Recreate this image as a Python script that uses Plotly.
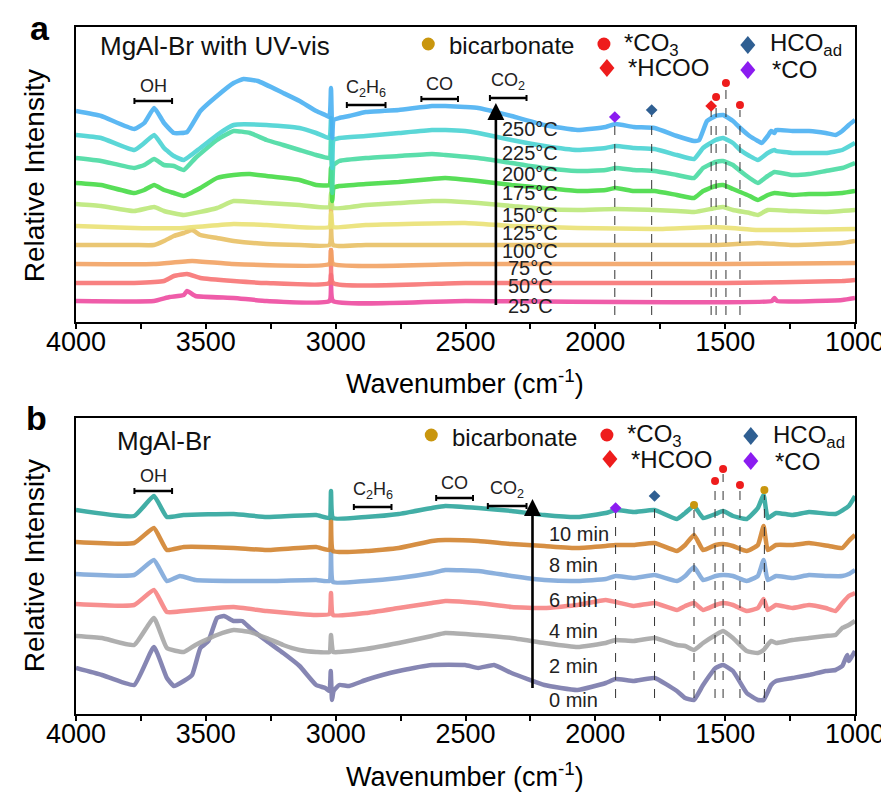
import plotly.graph_objects as go

# ---------------- DATA (wavenumber cm-1, stacked relative intensity) ----------------
# Panel a : MgAl-Br with UV-vis, temperature series
temps_a = ["25°C", "50°C", "75°C", "100°C", "125°C", "150°C", "175°C", "200°C", "225°C", "250°C"]
colors_a = ["#EE4BA0", "#F87474", "#F2A363", "#E8C064", "#EAE275", "#BCE879",
            "#46DB46", "#4ADBA2", "#4AD3D3", "#4BB1F2"]

a_25 = [(4000, 21), (3700, 21), (3640, 25), (3585, 27), (3572, 31), (3540, 26), (3393, 24),
        (3266, 21), (3024, 21), (3018, 47), (3010, 21), (2500, 21), (1320, 21), (1310, 24),
        (1300, 21), (1049, 22), (1000, 24)]
a_50 = [(4000, 39), (3776, 39), (3661, 41), (3623, 46), (3572, 48), (3521, 44), (3393, 41),
        (3266, 39), (3024, 39), (3018, 72), (3010, 39), (2500, 39), (1500, 39), (1049, 41), (1000, 42)]
a_75 = [(4000, 58), (3700, 58), (3553, 61), (3400, 58), (3024, 58), (3018, 72), (3010, 58),
        (2500, 58), (1500, 58), (1000, 59)]
a_100 = [(4000, 77), (3776, 77), (3700, 77), (3661, 81), (3623, 86), (3585, 89), (3553, 92),
         (3521, 87), (3457, 84), (3393, 81), (3266, 78), (3139, 77), (3024, 77), (3018, 119),
         (3010, 77), (2884, 77), (2502, 77), (2069, 77), (1537, 77), (1374, 79), (1304, 78),
         (1241, 77), (1049, 79), (1000, 81)]
a_125 = [(4000, 96), (3776, 94), (3585, 94), (3393, 98), (3266, 97), (3024, 95), (3018, 109),
         (3010, 95), (2884, 97), (2502, 99), (2323, 96), (2069, 94), (1772, 93), (1537, 95),
         (1374, 92), (1241, 92), (1000, 93)]
a_150 = [(4000, 118), (3903, 116), (3776, 111), (3699, 115), (3661, 111), (3585, 107), (3457, 114),
         (3393, 121), (3266, 119), (3139, 117), (3024, 115), (3018, 129), (3010, 114), (2884, 117),
         (2757, 119), (2629, 121), (2578, 121), (2451, 119), (2323, 116), (2196, 113), (2069, 112),
         (1922, 113), (1772, 112), (1686, 111), (1620, 110), (1537, 114), (1508, 115), (1470, 112),
         (1406, 109), (1374, 107), (1336, 112), (1241, 111), (1113, 110), (1000, 112)]
a_175 = [(4000, 139), (3903, 137), (3776, 129), (3737, 132), (3699, 137), (3661, 132), (3623, 129),
         (3585, 126), (3521, 134), (3457, 144), (3393, 147), (3330, 148), (3266, 146), (3139, 142),
         (3075, 137), (3024, 137), (3018, 154), (3013, 121), (3008, 134), (2986, 136), (2884, 138),
         (2757, 140), (2629, 143), (2578, 144), (2451, 141), (2323, 137), (2196, 134), (2069, 131),
         (1960, 132), (1922, 134), (1852, 131), (1772, 131), (1686, 127), (1620, 124), (1585, 131),
         (1537, 136), (1508, 137), (1470, 133), (1442, 130), (1406, 126), (1374, 122), (1336, 127),
         (1310, 129), (1241, 127), (1177, 128), (1113, 128), (1049, 129), (1000, 131)]
a_200 = [(4000, 164), (3903, 161), (3776, 154), (3737, 157), (3699, 163), (3661, 157), (3623, 156),
         (3585, 152), (3540, 164), (3457, 182), (3393, 191), (3330, 189), (3266, 182), (3202, 177),
         (3139, 172), (3075, 167), (3024, 164), (3018, 187), (3013, 129), (3008, 157), (2986, 161),
         (2884, 164), (2757, 166), (2629, 168), (2578, 167), (2451, 164), (2323, 159), (2196, 154),
         (2069, 151), (1960, 152), (1922, 154), (1852, 152), (1772, 151), (1686, 147), (1620, 144),
         (1585, 154), (1537, 160), (1508, 161), (1470, 157), (1442, 151), (1406, 144), (1374, 139),
         (1336, 146), (1310, 150), (1241, 147), (1177, 148), (1113, 151), (1049, 154), (1000, 159)]
a_225 = [(4000, 187), (3903, 184), (3776, 172), (3737, 179), (3699, 187), (3661, 174), (3623, 166),
         (3585, 162), (3521, 174), (3457, 187), (3393, 197), (3266, 197), (3139, 194), (3075, 189),
         (3024, 184), (3018, 204), (3013, 154), (3008, 182), (2986, 184), (2884, 186), (2757, 189),
         (2629, 192), (2578, 192), (2502, 191), (2451, 189), (2323, 182), (2196, 176), (2069, 172),
         (1960, 174), (1922, 176), (1852, 174), (1772, 173), (1686, 167), (1620, 163), (1585, 174),
         (1537, 182), (1508, 184), (1470, 179), (1442, 172), (1406, 166), (1374, 162), (1336, 169),
         (1310, 172), (1304, 171), (1241, 169), (1177, 169), (1113, 169), (1049, 172), (1000, 179)]
a_250 = [(4000, 211), (3903, 206), (3776, 193), (3737, 199), (3699, 214), (3661, 199), (3623, 189),
         (3572, 190), (3521, 211), (3457, 226), (3393, 239), (3355, 243), (3300, 241), (3202, 229),
         (3139, 221), (3075, 211), (3040, 207), (3024, 205), (3018, 234), (3013, 184), (3008, 202),
         (2986, 204), (2948, 206), (2884, 210), (2820, 211), (2757, 212), (2629, 216), (2578, 216),
         (2502, 215), (2451, 214), (2323, 206), (2196, 197), (2069, 192), (1960, 195), (1922, 198),
         (1852, 195), (1772, 194), (1686, 186), (1620, 181), (1600, 182), (1570, 201), (1537, 206),
         (1508, 207), (1470, 201), (1442, 194), (1406, 186), (1374, 181), (1360, 179), (1336, 186),
         (1323, 191), (1310, 189), (1304, 192), (1241, 191), (1177, 191), (1113, 189), (1075, 187),
         (1049, 191), (1024, 197), (1000, 202)]
spectra_a = [a_25, a_50, a_75, a_100, a_125, a_150, a_175, a_200, a_225, a_250]
label_y_a = [16, 36, 54, 71, 89, 107, 129, 148, 169, 193]

# Panel b : MgAl-Br, time series
times_b = ["0 min", "2 min", "4 min", "6 min", "8 min", "10 min"]
colors_b = ["#7A7AAB", "#A7A7A7", "#F78383", "#7FA8DA", "#D2832F", "#2EA69D"]

b_0 = [(4000, 46), (3900, 39), (3776, 29), (3700, 67), (3650, 36), (3623, 28), (3585, 33), (3553, 39),
       (3521, 66), (3490, 73), (3457, 96), (3430, 98), (3393, 93), (3360, 93), (3330, 86), (3266, 73),
       (3202, 61), (3139, 48), (3075, 29), (3040, 26), (3024, 23), (3019, 43), (3014, 14), (3008, 23),
       (2986, 29), (2948, 28), (2884, 34), (2820, 39), (2757, 43), (2629, 49), (2502, 49), (2451, 46),
       (2390, 49), (2323, 41), (2196, 29), (2069, 24), (1960, 31), (1922, 35), (1852, 33), (1772, 36),
       (1686, 23), (1654, 16), (1620, 14), (1585, 29), (1537, 46), (1508, 49), (1470, 43), (1417, 21),
       (1374, 14), (1352, 14), (1323, 29), (1304, 33), (1241, 36), (1177, 39), (1113, 43), (1075, 44),
       (1049, 48), (1030, 59), (1024, 53), (1000, 63)]
b_2 = [(4000, 78), (3900, 76), (3776, 69), (3700, 96), (3650, 66), (3585, 62), (3540, 69), (3457, 79),
       (3393, 84), (3330, 82), (3266, 76), (3202, 69), (3139, 64), (3075, 62), (3024, 62), (3018, 79),
       (3010, 62), (2986, 62), (2884, 65), (2757, 71), (2629, 78), (2578, 81), (2451, 79), (2323, 76),
       (2196, 71), (2069, 67), (1960, 71), (1922, 74), (1852, 73), (1772, 76), (1686, 69), (1654, 68),
       (1620, 64), (1585, 71), (1537, 79), (1508, 83), (1470, 76), (1417, 63), (1374, 61), (1352, 64),
       (1323, 73), (1304, 71), (1241, 74), (1177, 76), (1113, 78), (1075, 79), (1049, 86), (1024, 89),
       (1000, 93)]
b_4 = [(4000, 110), (3776, 109), (3700, 124), (3650, 102), (3585, 103), (3457, 106), (3393, 107),
       (3266, 103), (3139, 100), (3075, 99), (3024, 100), (3018, 121), (3010, 99), (2884, 101),
       (2757, 106), (2629, 111), (2578, 113), (2451, 111), (2323, 107), (2196, 106), (2069, 109),
       (1960, 114), (1922, 112), (1852, 108), (1772, 111), (1686, 104), (1654, 108), (1620, 111),
       (1585, 104), (1537, 109), (1508, 111), (1470, 109), (1417, 103), (1374, 106), (1352, 115),
       (1336, 104), (1304, 109), (1241, 106), (1177, 109), (1113, 106), (1075, 103), (1049, 111),
       (1024, 118), (1000, 121)]
b_6 = [(4000, 140), (3776, 139), (3700, 154), (3650, 133), (3600, 138), (3540, 134), (3393, 133),
       (3266, 133), (3075, 134), (3024, 133), (3018, 163), (3010, 132), (2884, 133), (2757, 136),
       (2629, 141), (2578, 144), (2451, 143), (2323, 138), (2196, 134), (2069, 133), (1960, 135),
       (1922, 138), (1852, 136), (1772, 139), (1686, 133), (1654, 138), (1620, 147), (1585, 134),
       (1537, 138), (1508, 139), (1470, 138), (1417, 133), (1374, 138), (1352, 154), (1336, 134),
       (1304, 138), (1241, 136), (1177, 139), (1100, 138), (1049, 138), (1024, 140), (1000, 144)]
b_8 = [(4000, 172), (3776, 171), (3700, 186), (3650, 164), (3585, 167), (3393, 166), (3266, 164),
       (3075, 167), (3024, 164), (3018, 194), (3010, 163), (2884, 163), (2757, 166), (2629, 173),
       (2578, 174), (2451, 173), (2323, 170), (2196, 168), (2069, 166), (1960, 168), (1922, 169),
       (1852, 169), (1772, 171), (1686, 163), (1654, 169), (1620, 179), (1585, 164), (1537, 169),
       (1508, 170), (1470, 168), (1417, 163), (1374, 169), (1352, 188), (1336, 164), (1304, 169),
       (1241, 169), (1177, 171), (1100, 168), (1049, 166), (1024, 173), (1000, 179)]
b_10 = [(4000, 204), (3776, 198), (3700, 218), (3650, 197), (3585, 199), (3393, 200), (3266, 197),
        (3075, 199), (3024, 196), (3018, 223), (3010, 196), (2884, 197), (2757, 200), (2629, 206),
        (2578, 208), (2451, 206), (2323, 203), (2196, 199), (2069, 197), (1960, 201), (1922, 204),
        (1852, 202), (1772, 204), (1686, 195), (1654, 201), (1620, 208), (1585, 196), (1537, 200),
        (1508, 203), (1470, 198), (1417, 195), (1374, 206), (1352, 219), (1336, 196), (1304, 201),
        (1241, 199), (1177, 202), (1075, 200), (1024, 208), (1000, 218)]
spectra_b = [b_0, b_2, b_4, b_6, b_8, b_10]
label_y_b = [14, 48, 83, 114, 149, 180]

# Peak assignment markers: (wavenumber, marker height, species)
peaks_a = [(1925, 205, "CO"), (1783, 212, "HCOad"), (1554, 216, "HCOO"),
           (1535, 225, "CO3"), (1497, 239, "CO3"), (1443, 217, "CO3")]
peaks_b = [(1922, 206, "CO"), (1772, 218, "HCOad"), (1620, 209, "bicarb"),
           (1539, 233, "CO3"), (1508, 245, "CO3"), (1443, 229, "CO3"), (1349, 224, "bicarb")]
dash_bottom_a = 7
dash_bottom_b = 16

# Band labels: (text, wn_start, wn_end, bar height)
bands_a = [("OH", 3775, 3630, 221), ("C<sub>2</sub>H<sub>6</sub>", 2957, 2808, 217),
           ("CO", 2670, 2529, 223), ("CO<sub>2</sub>", 2406, 2265, 224)]
bands_b = [("OH", 3775, 3630, 223), ("C<sub>2</sub>H<sub>6</sub>", 2930, 2785, 207),
           ("CO", 2613, 2471, 216), ("CO<sub>2</sub>", 2414, 2265, 208)]

arrow_a = (2383, 7, 219)
arrow_b = (2242, 16, 215)
templabel_x_a = 2250
timelabel_x_b = 2188

species = {
    "bicarb": dict(symbol="circle", color="#C9960E", label="bicarbonate"),
    "CO3": dict(symbol="circle", color="#EE1C1C", label="*CO<sub>3</sub>"),
    "HCOO": dict(symbol="diamond", color="#EE1C1C", label="*HCOO"),
    "HCOad": dict(symbol="diamond", color="#2F5F92", label="HCO<sub>ad</sub>"),
    "CO": dict(symbol="diamond", color="#8B1CF0", label="*CO"),
}

# ---------------- FIGURE ----------------
W, H = 889, 794
L, R, T, B = 68, 36, 19, 88
PW, PH = W - L - R, H - T - B
FONT = "Arial, Liberation Sans, sans-serif"


def px2paper(px, py):
    return (px - L) / PW, (H - B - py) / PH


fig = go.Figure()

for pts, col in zip(spectra_a, colors_a):
    fig.add_trace(go.Scatter(x=[p[0] for p in pts], y=[p[1] for p in pts], mode="lines",
                             line=dict(color=col, width=4.5, shape="spline", smoothing=0.4),
                             opacity=0.9, xaxis="x", yaxis="y", showlegend=False, hoverinfo="skip"))
for pts, col in zip(spectra_b, colors_b):
    fig.add_trace(go.Scatter(x=[p[0] for p in pts], y=[p[1] for p in pts], mode="lines",
                             line=dict(color=col, width=4.5, shape="spline", smoothing=0.4),
                             opacity=0.9, xaxis="x2", yaxis="y2", showlegend=False, hoverinfo="skip"))

shapes = []
annotations = []

for peaks, xr, yr, bottom in [(peaks_a, "x", "y", dash_bottom_a), (peaks_b, "x2", "y2", dash_bottom_b)]:
    for wn, h, sp in peaks:
        shapes.append(dict(type="line", xref=xr, yref=yr, x0=wn, x1=wn, y0=bottom, y1=h - 5,
                           line=dict(color="#333333", width=1, dash="dash")))
    for sp in species:
        sel = [p for p in peaks if p[2] == sp]
        if not sel:
            continue
        info = species[sp]
        fig.add_trace(go.Scatter(x=[p[0] for p in sel], y=[p[1] for p in sel], mode="markers",
                                 marker=dict(symbol=info["symbol"], color=info["color"],
                                             size=8 if info["symbol"] == "circle" else 9),
                                 xaxis=xr, yaxis=yr, showlegend=False, hoverinfo="skip", cliponaxis=False))

for bands, xr, yr in [(bands_a, "x", "y"), (bands_b, "x2", "y2")]:
    for txt, w0, w1, hgt in bands:
        shapes.append(dict(type="line", xref=xr, yref=yr, x0=w0, x1=w1, y0=hgt, y1=hgt,
                           line=dict(color="black", width=2.5)))
        for w in (w0, w1):
            shapes.append(dict(type="line", xref=xr, yref=yr, x0=w, x1=w, y0=hgt - 3, y1=hgt + 3,
                               line=dict(color="black", width=2)))
        annotations.append(dict(text=txt, xref=xr, yref=yr, x=(w0 + w1) / 2, y=hgt + 3,
                                yanchor="bottom", showarrow=False,
                                font=dict(family=FONT, size=18, color="#222222")))

for (wn, y0, y1), xr, yr in [(arrow_a, "x", "y"), (arrow_b, "x2", "y2")]:
    annotations.append(dict(xref=xr, yref=yr, x=wn, y=y1, ax=wn, ay=y0, axref=xr, ayref=yr,
                            showarrow=True, arrowhead=2, arrowsize=1.3, arrowwidth=2.6,
                            arrowcolor="black", text=" "))

for t, yv in zip(temps_a, label_y_a):
    annotations.append(dict(text=t, xref="x", yref="y", x=templabel_x_a, y=yv, showarrow=False,
                            xanchor="center", font=dict(family=FONT, size=20, color="#222222")))
for t, yv in zip(times_b, label_y_b):
    annotations.append(dict(text=t, xref="x2", yref="y2", x=timelabel_x_b, y=yv, showarrow=False,
                            xanchor="left", font=dict(family=FONT, size=20, color="#222222")))

# Legend block (symbols + text), drawn per panel; pixel offsets of panel b relative to panel a
legend_items = [("bicarb", 423, 36, 442, 38), ("CO3", 600, 36, 618, 36), ("HCOO", 603, 60, 622, 60),
                ("HCOad", 745, 37, 765, 37), ("CO", 745, 62, 767, 62)]
for dx, dy in [(0, 0), (3, 391)]:
    for sp, sx, sy, tx, ty in legend_items:
        info = species[sp]
        xp, yp = px2paper(sx + dx, sy + dy)
        if info["symbol"] == "circle":
            shapes.append(dict(type="circle", xref="paper", yref="paper", xsizemode="pixel",
                               ysizemode="pixel", xanchor=xp, yanchor=yp, x0=-6.5, x1=6.5, y0=-6.5, y1=6.5,
                               fillcolor=info["color"], line=dict(width=0)))
        else:
            shapes.append(dict(type="path", xref="paper", yref="paper", xsizemode="pixel",
                               ysizemode="pixel", xanchor=xp, yanchor=yp,
                               path="M0,-9 L7.5,0 L0,9 L-7.5,0 Z",
                               fillcolor=info["color"], line=dict(width=0)))
        xt, yt = px2paper(tx + dx, ty + dy)
        annotations.append(dict(text=info["label"], xref="paper", yref="paper", x=xt, y=yt,
                                xanchor="left", yanchor="middle", showarrow=False,
                                font=dict(family=FONT, size=24, color="#111111")))

# Sample titles
for txt, px, py in [("MgAl-Br with UV-vis", 90, 38), ("MgAl-Br", 107, 433)]:
    xp, yp = px2paper(px, py)
    annotations.append(dict(text=txt, xref="paper", yref="paper", x=xp, y=yp, xanchor="left",
                            yanchor="middle", showarrow=False, font=dict(family=FONT, size=26, color="#111111")))

# Panel letters
for txt, px, py in [("a", 32, 20), ("b", 28, 410)]:
    xp, yp = px2paper(px, py)
    annotations.append(dict(text="<b>%s</b>" % txt, xref="paper", yref="paper", x=xp, y=yp,
                            xanchor="center", yanchor="middle", showarrow=False,
                            font=dict(family=FONT, size=34, color="black")))

# Axis titles
for px, py in [(460, 374), (460, 767)]:
    xp, yp = px2paper(px, py)
    annotations.append(dict(text="Wavenumber (cm<sup>-1</sup>)", xref="paper", yref="paper", x=xp, y=yp,
                            xanchor="center", yanchor="middle", showarrow=False,
                            font=dict(family=FONT, size=27, color="black")))
for px, py in [(26, 168), (26, 558)]:
    xp, yp = px2paper(px, py)
    annotations.append(dict(text="Relative Intensity", xref="paper", yref="paper", x=xp, y=yp,
                            xanchor="center", yanchor="middle", textangle=-90, showarrow=False,
                            font=dict(family=FONT, size=28, color="black")))

xcommon = dict(range=[4000, 1000], showline=True, mirror=True, linecolor="black", linewidth=1.5,
               ticks="outside", ticklen=5, tickwidth=1.5, tickcolor="black", dtick=500, tick0=1000,
               minor=dict(dtick=250, tick0=1000, ticks="outside", ticklen=5, tickwidth=1.5, tickcolor="black"),
               showgrid=False, zeroline=False, ticklabelstandoff=-10,
               tickfont=dict(family=FONT, size=27, color="black"))
ycommon = dict(showline=True, mirror=True, linecolor="black", linewidth=1.5, ticks="",
               showticklabels=False, showgrid=False, zeroline=False)

ya_bottom = (H - B - 314) / PH
yb_top = (H - B - 410) / PH

fig.update_layout(
    width=W, height=H, margin=dict(l=L, r=R, t=T, b=B, pad=0),
    paper_bgcolor="white", plot_bgcolor="white",
    xaxis=dict(xcommon, anchor="y", domain=[0, 1]),
    yaxis=dict(ycommon, anchor="x", domain=[ya_bottom, 1], range=[0, 295]),
    xaxis2=dict(xcommon, anchor="y2", domain=[0, 1]),
    yaxis2=dict(ycommon, anchor="x2", domain=[0, yb_top], range=[0, 296]),
    shapes=shapes, annotations=annotations, showlegend=False,
)

fig.write_html("out.html")
